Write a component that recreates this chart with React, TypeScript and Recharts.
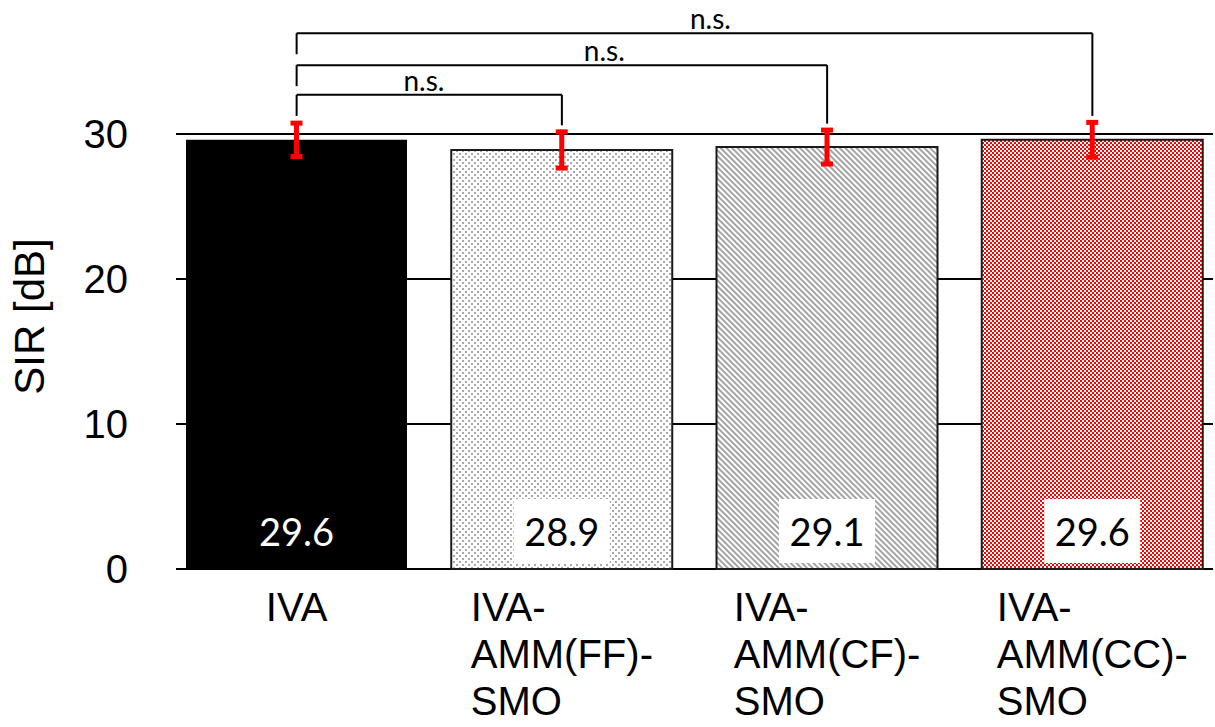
import React from "react";
import {
  Bar,
  BarChart,
  CartesianGrid,
  Cell,
  ErrorBar,
  Label,
  LabelList,
  ReferenceLine,
  XAxis,
  YAxis,
} from "recharts";

// separation methods on the x axis (line breaks are kept in the tick)
const methods = [
  "IVA",
  "IVA-\nAMM(FF)-\nSMO",
  "IVA-\nAMM(CF)-\nSMO",
  "IVA-\nAMM(CC)-\nSMO",
];
const sirMean = [29.6, 28.9, 29.1, 29.6]; // dB
const sirErr = [1.15, 1.25, 1.17, 1.2]; // dB, +/- one std
const yTicks = [0, 10, 20, 30];

// pairwise tests against plain IVA
const pairs = [
  { from: 0, to: 1, level: 32.7, text: "n.s." },
  { from: 0, to: 2, level: 34.75, text: "n.s." },
  { from: 0, to: 3, level: 36.95, text: "n.s." },
];
const pairTextAt = [0.48, 0.58, 0.52]; // where "n.s." sits along each bracket

const fills = ["#000000", "url(#dots)", "url(#hatch)", "url(#check)"];
const strokes = ["none", "#1a1a1a", "#1a1a1a", "#1a1a1a"];

const data = methods.map((name, i) => ({
  name,
  sir: sirMean[i],
  err: sirErr[i],
}));

const AXIS_FONT = "'Liberation Sans', Arial, sans-serif";
const NOTE_FONT = "Lato, 'Open Sans', sans-serif";

let ctx: CanvasRenderingContext2D | null = null;
const textWidth = (s: string, font: string) => {
  if (!ctx) ctx = document.createElement("canvas").getContext("2d");
  if (!ctx) return s.length * 20;
  ctx.font = font;
  return ctx.measureText(s).width;
};

const MethodTick = ({ x, y, payload }: any) => {
  const lines = String(payload.value).split("\n");
  const font = `40px ${AXIS_FONT}`;
  if (lines.length === 1) {
    return (
      <text x={x} y={y + 52} textAnchor="middle" fontSize={40} fontFamily={AXIS_FONT} fill="#000">
        {lines[0]}
      </text>
    );
  }
  const widest = Math.max(...lines.map((l) => textWidth(l, font)));
  const left = x - widest / 2;
  return (
    <text x={left} y={y + 52} textAnchor="start" fontSize={40} fontFamily={AXIS_FONT} fill="#000">
      {lines.map((l, i) => (
        <tspan key={i} x={left} dy={i === 0 ? 0 : 47}>
          {l}
        </tspan>
      ))}
    </text>
  );
};

const YTitle = ({ viewBox }: any) => {
  const tx = viewBox.x + 44;
  const ty = viewBox.y + viewBox.height / 2 + 23;
  return (
    <text
      x={tx}
      y={ty}
      transform={`rotate(-90 ${tx} ${ty})`}
      textAnchor="middle"
      fontSize={42}
      fontFamily={AXIS_FONT}
      fill="#000"
    >
      SIR [dB]
    </text>
  );
};

const ValueTag = (props: any) => {
  const { x, y, width, height, value, index } = props;
  const cx = Number(x) + Number(width) / 2;
  const bottom = Number(y) + Number(height);
  const onDark = index === 0;
  return (
    <g>
      {!onDark && <rect x={cx - 48} y={bottom - 70} width={96} height={64} fill="#fff" />}
      <text
        x={cx}
        y={bottom - 23}
        textAnchor="middle"
        fontSize={38}
        fontFamily={NOTE_FONT}
        fill={onDark ? "#fff" : "#000"}
      >
        {Number(value).toFixed(1)}
      </text>
    </g>
  );
};

const pairLabel = (at: number, text: string) => ({ viewBox }: any) => (
  <text
    x={viewBox.x + viewBox.width * at}
    y={viewBox.y - 4}
    textAnchor="middle"
    fontSize={28}
    fontFamily={NOTE_FONT}
    fill="#000"
  >
    {text}
  </text>
);

export default function App() {
  return (
    <div
      style={{
        position: "absolute",
        left: 0,
        top: 0,
        width: 1215,
        height: 727,
        overflow: "hidden",
        background: "#fff",
      }}
    >
      <BarChart
        width={1240}
        height={727}
        data={data}
        margin={{ top: 18, right: 15, bottom: 0, left: 0 }}
        barSize={221}
      >
        <defs>
          <pattern id="dots" width="6" height="6" patternUnits="userSpaceOnUse">
            <rect width="6" height="6" fill="#fff" />
            <rect x="0" y="0" width="2" height="2" fill="#a8a8a8" />
            <rect x="3" y="3" width="2" height="2" fill="#a8a8a8" />
          </pattern>
          <pattern
            id="hatch"
            width="4"
            height="4"
            patternUnits="userSpaceOnUse"
            patternTransform="rotate(-45)"
          >
            <rect width="4" height="4" fill="#fff" />
            <rect width="2" height="4" fill="#a4a4a4" />
          </pattern>
          <pattern id="check" width="4" height="4" patternUnits="userSpaceOnUse">
            <rect width="4" height="4" fill="#fff" />
            <rect x="0" y="0" width="2" height="2" fill="#ff0000" />
            <rect x="2" y="2" width="2" height="2" fill="#ff0000" />
          </pattern>
        </defs>
        <CartesianGrid
          vertical={false}
          horizontalValues={yTicks}
          x={176}
          width={1037}
          stroke="#000"
          strokeWidth={2}
        />
        <XAxis
          dataKey="name"
          axisLine={false}
          tickLine={false}
          tickSize={0}
          tickMargin={0}
          height={158}
          interval={0}
          tick={<MethodTick />}
        />
        <YAxis
          domain={[0, 38]}
          ticks={yTicks}
          width={164}
          axisLine={false}
          tickLine={false}
          tickSize={0}
          tickMargin={36}
          tick={{ fontSize: 40, fontFamily: AXIS_FONT, fill: "#000" }}
        >
          <Label content={YTitle} />
        </YAxis>
        <Bar dataKey="sir" isAnimationActive={false}>
          {data.map((d, i) => (
            <Cell key={d.name} fill={fills[i]} stroke={strokes[i]} strokeWidth={2} />
          ))}
          <ErrorBar dataKey="err" width={6} strokeWidth={5} stroke="#ff0000" />
          <LabelList dataKey="sir" content={<ValueTag />} />
        </Bar>
        {pairs.map((p, i) => {
          const a = methods[p.from];
          const b = methods[p.to];
          const rightEnd = sirMean[p.to] + sirErr[p.to] + 0.45;
          return [
            <ReferenceLine
              key={`h${i}`}
              segment={[
                { x: a, y: p.level },
                { x: b, y: p.level },
              ]}
              stroke="#000"
              strokeWidth={2}
              label={pairLabel(pairTextAt[i], p.text)}
            />,
            <ReferenceLine
              key={`l${i}`}
              segment={[
                { x: a, y: p.level },
                { x: a, y: p.level - 1.45 },
              ]}
              stroke="#000"
              strokeWidth={2}
            />,
            <ReferenceLine
              key={`r${i}`}
              segment={[
                { x: b, y: p.level },
                { x: b, y: rightEnd },
              ]}
              stroke="#000"
              strokeWidth={2}
            />,
          ];
        })}
      </BarChart>
    </div>
  );
}
